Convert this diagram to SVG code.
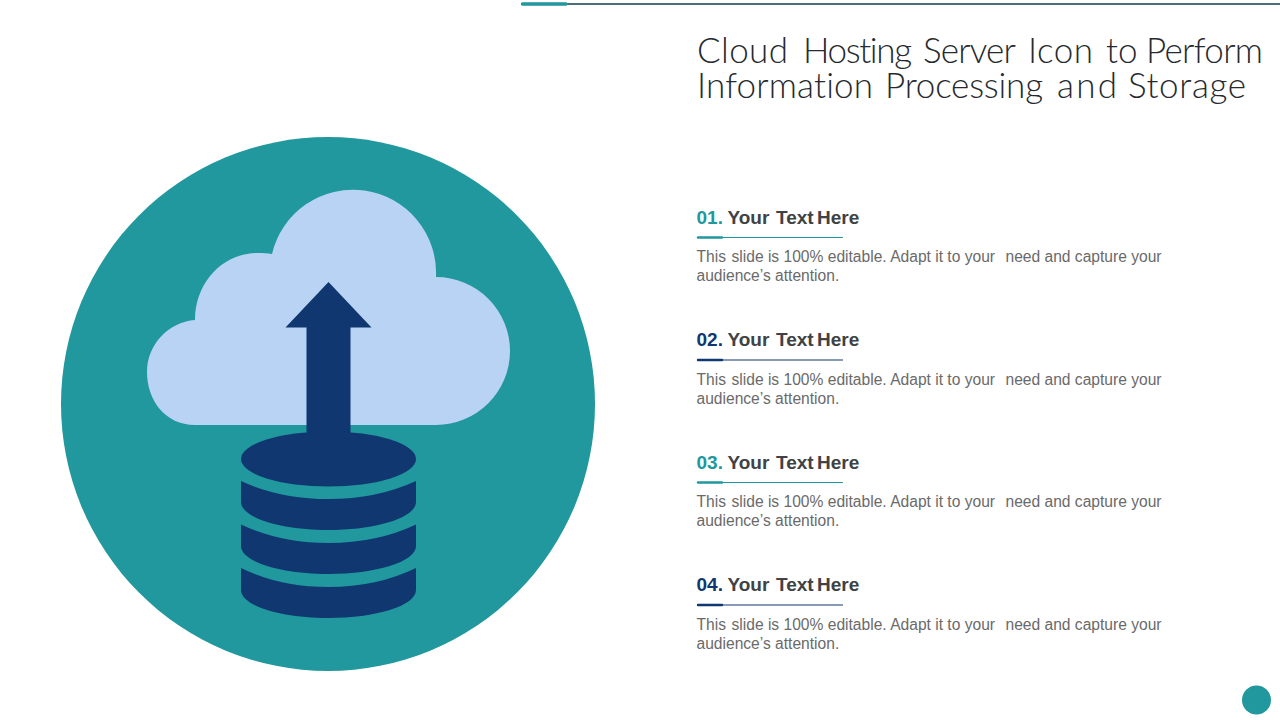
<svg xmlns="http://www.w3.org/2000/svg" width="1280" height="720" viewBox="0 0 1280 720">
<style>
text{font-family:"Liberation Sans",Arial,sans-serif}
.title{font-family:Lato,"Liberation Sans",sans-serif;font-weight:300;font-size:35px;fill:#26292e;font-variant-ligatures:none}
.h{font-size:19px;font-weight:bold;fill:#404244}
.b{font-size:15.600px;fill:#6a6a6a}
.teal{fill:#21979e}
.navy{fill:#10376f}
.tl{stroke:#21979e}
.nl{stroke:#10376f}
.thin{stroke-width:1.100}
.thick{stroke-width:2.400;stroke-linecap:round}
</style>
<defs>
<g id="desc">
<text class="b" y="0"><tspan x="696.500">This</tspan> <tspan x="731.500">slide is 100% editable. Adapt it to your</tspan> <tspan x="1005.500">need and capture your</tspan></text>
<text class="b" y="19" x="696.500">audience’s attention.</text>
</g>
</defs>
<rect width="1280" height="720" fill="#fff"/>
<g id="top-rule">
<line x1="521" y1="4" x2="1280" y2="4" stroke="#10414f" stroke-width="1.300"/>
<line x1="522.500" y1="4" x2="566" y2="4" class="tl" stroke-width="3.500" stroke-linecap="round"/>
</g>
<g id="title">
<text class="title" y="63"><tspan x="697" textLength="91">Cloud</tspan> <tspan x="803" textLength="109">Hosting</tspan> <tspan x="923" textLength="92">Server</tspan> <tspan x="1028" textLength="65">Icon</tspan> <tspan x="1106">to</tspan> <tspan x="1146" textLength="117">Perform</tspan></text>
<text class="title" y="98"><tspan x="697" textLength="176">Information</tspan> <tspan x="885" textLength="158">Processing</tspan> <tspan x="1057" textLength="60">and</tspan> <tspan x="1128" textLength="118">Storage</tspan></text>
</g>
<g id="icon">
<circle cx="328" cy="404" r="267" class="teal"/>
<path id="cloud" fill="#b9d3f4" d="M195 425C165 425 147 400 147 372C147 345 168 322 195 320C195 283 222 253 258 253C263 253 268 253 272 254A83.140 83.140 0 0 1 436 277A74 74 0 0 1 436 425Z"/>
<path id="arrow" class="navy" d="M328.500 282L371.500 327.500H350.500V440H306.500V327.500H285.500Z"/>
<g id="database" class="navy">
<ellipse cx="328.500" cy="459" rx="87.500" ry="27.500"/>
<path d="M241 481Q280 499 328.500 499T416 481V502C416 518 375 530 328.500 530S241 518 241 502Z"/>
<path d="M241 524.500Q280 543 328.500 543T416 524.500V546C416 562 375 574 328.500 574S241 562 241 546Z"/>
<path d="M241 568Q280 587 328.500 587T416 568V590C416 606 375 618 328.500 618S241 606 241 590Z"/>
</g>
</g>
<g id="item-1">
<text class="h" y="224"><tspan class="teal" x="696.500">01.</tspan> <tspan x="727.500">Your</tspan> <tspan x="776">Text</tspan> <tspan x="817">Here</tspan></text>
<line x1="697" y1="237.500" x2="843" y2="237.500" class="tl thin"/><line x1="698" y1="237.500" x2="722" y2="237.500" class="tl thick"/>
<use href="#desc" y="262"/>
</g>
<g id="item-2">
<text class="h" y="346"><tspan class="navy" x="696.500">02.</tspan> <tspan x="727.500">Your</tspan> <tspan x="776">Text</tspan> <tspan x="817">Here</tspan></text>
<line x1="697" y1="360" x2="843" y2="360" class="nl thin"/><line x1="698" y1="360" x2="722" y2="360" class="nl thick"/>
<use href="#desc" y="385"/>
</g>
<g id="item-3">
<text class="h" y="469"><tspan class="teal" x="696.500">03.</tspan> <tspan x="727.500">Your</tspan> <tspan x="776">Text</tspan> <tspan x="817">Here</tspan></text>
<line x1="697" y1="482.500" x2="843" y2="482.500" class="tl thin"/><line x1="698" y1="482.500" x2="722" y2="482.500" class="tl thick"/>
<use href="#desc" y="507"/>
</g>
<g id="item-4">
<text class="h" y="591"><tspan class="navy" x="696.500">04.</tspan> <tspan x="727.500">Your</tspan> <tspan x="776">Text</tspan> <tspan x="817">Here</tspan></text>
<line x1="697" y1="605" x2="843" y2="605" class="nl thin"/><line x1="698" y1="605" x2="722" y2="605" class="nl thick"/>
<use href="#desc" y="630"/>
</g>
<circle id="corner-dot" cx="1256.500" cy="700" r="14.500" class="teal"/>
</svg>
